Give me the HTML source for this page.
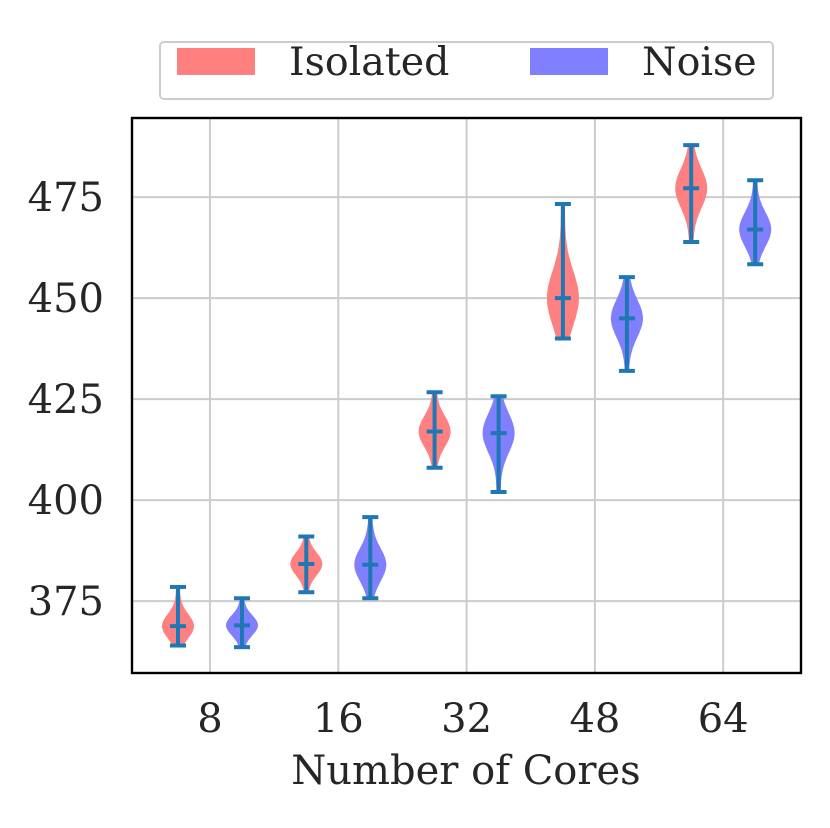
<!DOCTYPE html>
<html><head><meta charset="utf-8">
<style>
html,body{margin:0;padding:0;background:#fff;}
svg text{font-family:"DejaVu Serif","Liberation Serif",serif;fill:#262626;}
</style></head>
<body>
<svg id="chart" width="830" height="823" viewBox="0 0 830 823" xmlns="http://www.w3.org/2000/svg">
<g id="grid"></g>
<g id="violins"></g>
<rect x="132" y="118" width="669" height="555" fill="none" stroke="#000" stroke-width="2.4"/>
<g id="ticks"></g>
<text x="466" y="784" font-size="40" text-anchor="middle">Number of Cores</text>
<g>
<rect x="160" y="42" width="613" height="57" rx="4" fill="#fff" stroke="#ccc" stroke-width="2"/>
<rect x="177" y="48" width="78" height="27" fill="#ff7f7f"/>
<text x="289" y="75" font-size="39.5">Isolated</text>
<rect x="530" y="48" width="78" height="27" fill="#7f7fff"/>
<text x="642" y="75" font-size="39.5">Noise</text>
</g>
</svg>
<script>
const categories = ["8","16","32","48","64"];
const yTicks = [375,400,425,450,475];
const isoMin = [364,377.2,408,440,463.9];
const isoMax = [378.5,391,426.7,473.3,487.9];
const isoMed = [368.8,384.2,417,450,477.2];
const noiseMin = [363.6,375.7,402,432,458.4];
const noiseMax = [375.7,395.8,425.7,455.2,479.2];
const noiseMed = [369,384,416.6,445,467];

const NS="http://www.w3.org/2000/svg";
const X0=132,X1=801,Y0=118,Y1=673;
const yMin=357.2,yMax=494.6;
function yScale(v){return Y1-(v-yMin)/(yMax-yMin)*(Y1-Y0);}
function xScale(i){return 210+i*128.3;}
function mk(tag,attrs,parent){const e=document.createElementNS(NS,tag);for(const k in attrs)e.setAttribute(k,attrs[k]);parent.appendChild(e);return e;}
const grid=document.getElementById('grid'),ticks=document.getElementById('ticks'),vg=document.getElementById('violins');
yTicks.forEach(t=>{
  const y=yScale(t);
  const l=mk('line',{x1:X0,x2:X1,y1:y,y2:y,stroke:'#cccccc','stroke-width':2},grid);
  
  
  const tx=mk('text',{x:104,y:y+14,'font-size':40,'text-anchor':'end'},ticks);
  tx.textContent=t;
  
  
});
categories.forEach((c,i)=>{
  const x=xScale(i);
  const l=mk('line',{x1:x,x2:x,y1:Y0,y2:Y1,stroke:'#cccccc','stroke-width':2},grid);
  
  
  const tx=mk('text',{x:x,y:732,'font-size':40,'text-anchor':'middle'},ticks);
  tx.textContent=c;
  
  
});
function violin(xc,mn,mx,md,fill,name){
  const s=(mx-mn)/5, W=14, N=40;
  let L=[],R=[];
  for(let k=0;k<=N;k++){
    const v=mn+(mx-mn)*k/N;
    const w=W*Math.exp(-0.5*Math.pow((v-md)/s,2))+1.5;
    const y=yScale(v);
    R.push((xc+w).toFixed(1)+','+y.toFixed(1));
    L.unshift((xc-w).toFixed(1)+','+y.toFixed(1));
  }
  const p=mk('polygon',{points:R.concat(L).join(' '),fill:fill,stroke:fill,'stroke-width':1},vg);
  
  
  const g=mk('g',{stroke:'#1f77b4','stroke-width':4},vg);
  
  
  mk('line',{x1:xc,x2:xc,y1:yScale(mn),y2:yScale(mx)},g);
  [mn,mx,md].forEach(v=>mk('line',{x1:xc-8,x2:xc+8,y1:yScale(v),y2:yScale(v)},g));
}
categories.forEach((c,i)=>{
  const x=xScale(i);
  violin(x-32,isoMin[i],isoMax[i],isoMed[i],'#ff8080','isolated-'+c);
  violin(x+32,noiseMin[i],noiseMax[i],noiseMed[i],'#8080ff','noise-'+c);
});
</script>
</body></html>
